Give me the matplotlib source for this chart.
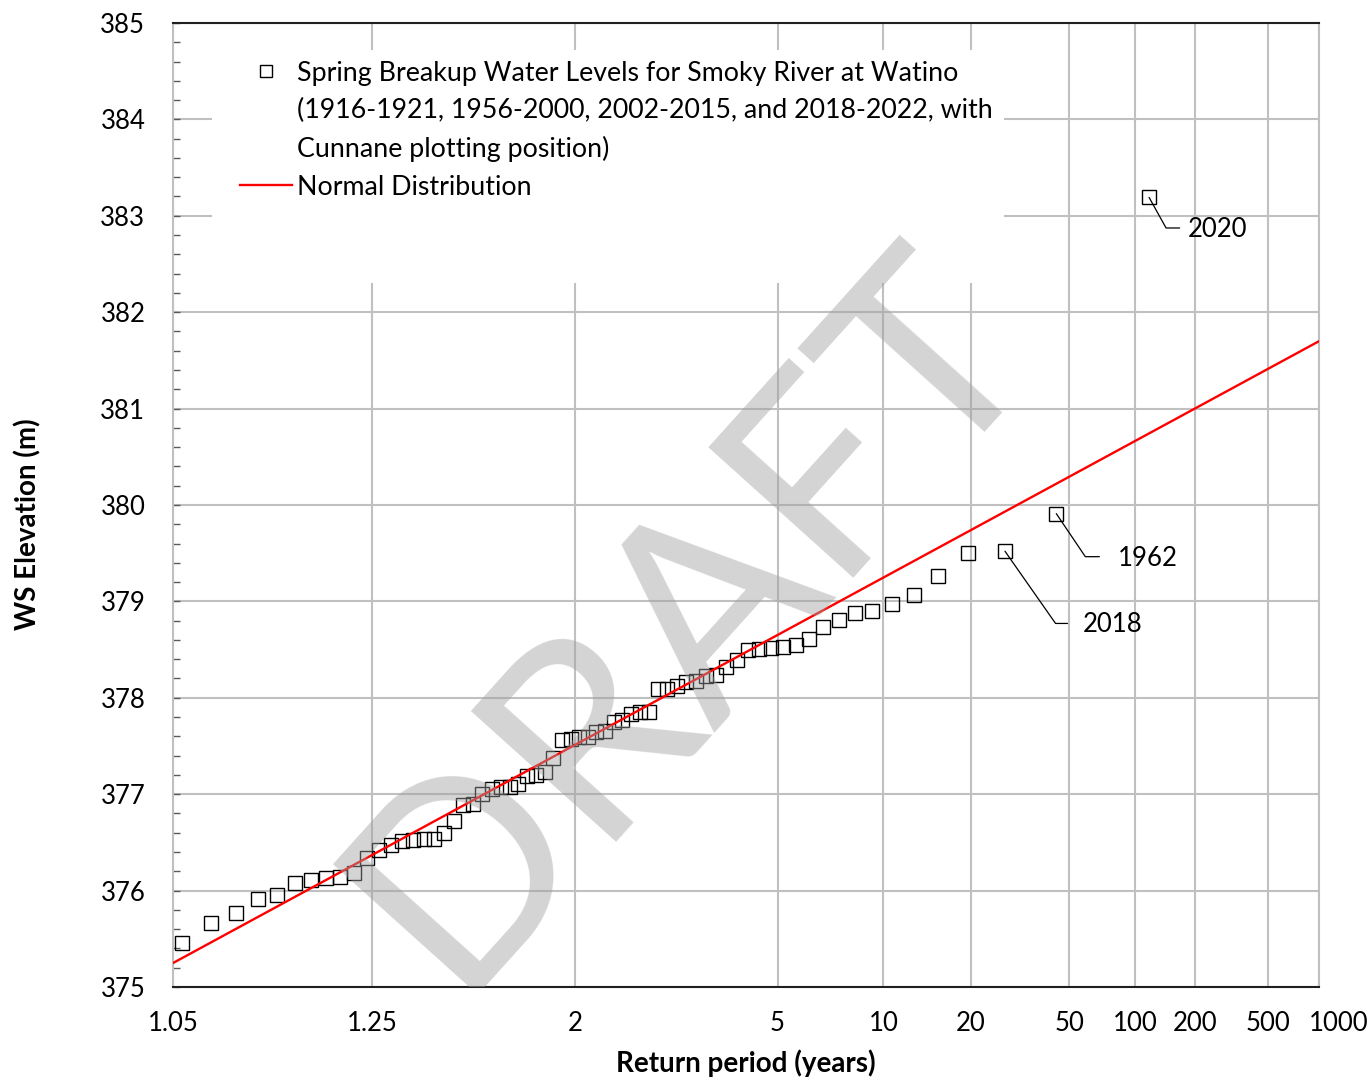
import numpy as np
import matplotlib
matplotlib.use('Agg')
import matplotlib.pyplot as plt
import matplotlib.transforms as mtransforms
from matplotlib.lines import Line2D
from matplotlib.patches import Rectangle
from matplotlib.ticker import MultipleLocator, NullLocator
from statistics import NormalDist

plt.rcParams['font.family'] = ['Lato', 'DejaVu Sans']

# Spring breakup peak water levels, ranked from highest to lowest (m)
n_years = 70
elev = [
    383.19, 379.91, 379.52, 379.50, 379.26, 379.07, 378.97, 378.90, 378.88, 378.81,
    378.73, 378.61, 378.55, 378.53, 378.52, 378.51, 378.50, 378.39, 378.32, 378.24,
    378.23, 378.17, 378.16, 378.12, 378.09, 378.09, 377.85, 377.85, 377.83, 377.77,
    377.75, 377.65, 377.64, 377.59, 377.59, 377.57, 377.56, 377.37, 377.23, 377.20,
    377.19, 377.11, 377.07, 377.07, 377.05, 377.00, 376.90, 376.89, 376.72, 376.60,
    376.53, 376.53, 376.52, 376.51, 376.47, 376.42, 376.34, 376.18, 376.14, 376.13,
    376.11, 376.08, 375.95, 375.91, 375.77, 375.66, 375.46,
]

# labelled years: (rank, year)
callouts = [(1, '2020'), (2, '1962'), (3, '2018')]

# fitted normal distribution
mu, sigma = 377.51, 1.3555

xticks = [1.05, 1.25, 2, 5, 10, 20, 50, 100, 200, 500, 1000]
xticklabels = ['1.05', '1.25', '2', '5', '10', '20', '50', '100', '200', '500', '1000']

nd = NormalDist()
_ppf = np.vectorize(nd.inv_cdf, otypes=[float])
_cdf = np.vectorize(nd.cdf, otypes=[float])


def rp_to_z(t):
    t = np.asarray(t, dtype=float)
    with np.errstate(divide='ignore', invalid='ignore'):
        f = 1.0 - 1.0 / t
    f = np.clip(np.nan_to_num(f, nan=1e-9, neginf=1e-9, posinf=1e-9), 1e-9, 1 - 1e-9)
    return _ppf(f)


def z_to_rp(z):
    z = np.asarray(z, dtype=float)
    with np.errstate(divide='ignore', invalid='ignore'):
        return 1.0 / (1.0 - _cdf(z))


# Cunnane plotting position
rank = np.arange(1, len(elev) + 1)
rp = (n_years + 0.2) / (rank - 0.4)

t_line = np.geomspace(1.05, 1000, 200)
y_line = mu + sigma * rp_to_z(t_line)

fig = plt.figure(figsize=(13.69, 10.77), dpi=100)
ax = fig.add_axes([0.1264, 0.0836, 0.8371, 0.8951])
ax.set_xscale('function', functions=(rp_to_z, z_to_rp))

ax.plot(rp, elev, linestyle='none', marker='s', ms=10, mfc='none', mec='black',
        mew=1.0, zorder=3)
ax.plot(t_line, y_line, color='red', lw=1.7, zorder=4)

ax.set_xlim(1.05, 1000)
ax.set_ylim(375, 385)
ax.set_xticks(xticks)
ax.set_xticklabels(xticklabels)
ax.xaxis.set_minor_locator(NullLocator())
ax.set_yticks(range(375, 386))
ax.yaxis.set_minor_locator(MultipleLocator(0.2))

ax.set_axisbelow(True)
ax.grid(True, which='major', color='#c0c0c0', lw=1.5)
ax.tick_params(axis='x', length=0, pad=17, labelsize=18.5)
ax.tick_params(axis='y', which='both', direction='in', length=5, width=1,
               color='#595959', pad=20, labelsize=18.5)
for side in ['top', 'bottom']:
    ax.spines[side].set_color('#202020')
    ax.spines[side].set_linewidth(1.5)
for side in ['left', 'right']:
    ax.spines[side].set_color('#c0c0c0')
    ax.spines[side].set_linewidth(1.5)

# last label sits a little right of its gridline
last = ax.get_xticklabels()[-1]
last.set_transform(last.get_transform() + mtransforms.ScaledTranslation(14 / 72, 0, fig.dpi_scale_trans))

ax.set_xlabel('Return period (years)', fontsize=20, fontweight='bold', labelpad=10)
ax.set_ylabel('WS Elevation (m)', fontsize=20, fontweight='bold')
ax.yaxis.set_label_coords(-0.1152, 0.480)

# year callouts with bent leader lines
leader = {'2020': (22, -22, 119), '1962': (31, -31, 124), '2018': (45, -52, 125)}
text_gap = {'2020': 6, '1962': 13, '2018': 11}
for r, year in callouts:
    dx, dy, ang = leader[year]
    ax.annotate('', xy=(rp[r - 1], elev[r - 1]), xytext=(dx, dy), textcoords='offset points',
                arrowprops=dict(arrowstyle='-', lw=0.9, color='black', shrinkA=0, shrinkB=0,
                                connectionstyle=f'angle,angleA=0,angleB={ang},rad=0'))
    ax.annotate(year, xy=(rp[r - 1], elev[r - 1]), xytext=(dx + text_gap[year], dy - 1),
                textcoords='offset points', fontsize=18.5, va='center', ha='left')

# legend on a white panel
ax.add_patch(Rectangle((0.034, 0.730), 0.691, 0.242, transform=ax.transAxes,
                       facecolor='white', edgecolor='none', zorder=1))
blank = Line2D([], [], linestyle='none')
handles = [
    Line2D([], [], linestyle='none', marker='s', ms=8.5, mfc='none', mec='black', mew=1.0),
    blank, blank,
    Line2D([], [], color='red', lw=1.7),
]
labels = [
    'Spring Breakup Water Levels for Smoky River at Watino',
    '(1916-1921, 1956-2000, 2002-2015, and 2018-2022, with',
    'Cunnane plotting position)',
    'Normal Distribution',
]
ax.legend(handles, labels, loc='upper left', bbox_to_anchor=(0.0585, 0.961), frameon=False,
          fontsize=19.3, borderpad=0, borderaxespad=0, handlelength=1.94, handletextpad=0.19,
          labelspacing=0.47)

ax.text(0.450, 0.383, 'DRAFT', transform=ax.transAxes, fontsize=196, color='#a0a0a0',
        alpha=0.45, rotation=48, ha='center', va='center', rotation_mode='anchor',
        zorder=6, clip_on=True)

fig.savefig('out.png', dpi=100)
